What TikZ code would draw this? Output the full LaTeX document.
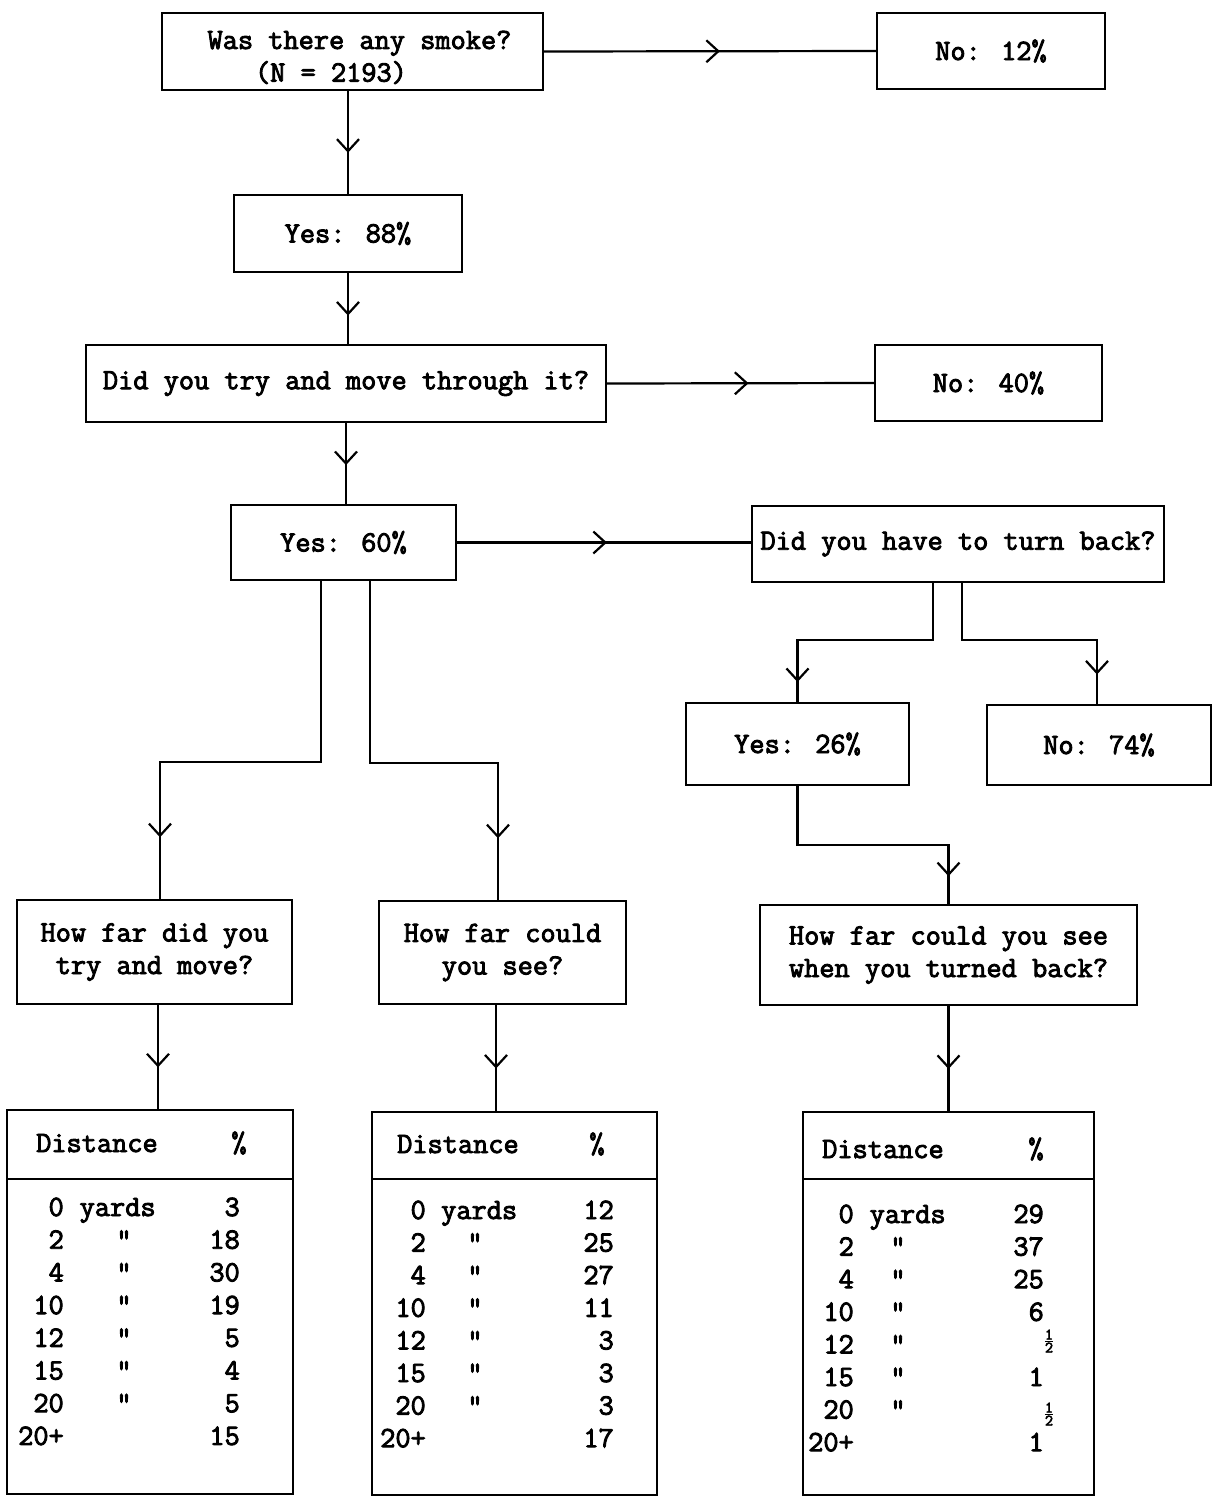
\documentclass[tikz,border=0pt]{standalone}
\usepackage{fontspec}
\newfontfamily\tw{Latin Modern Mono}[FakeBold=3]
\usetikzlibrary{arrows.meta,decorations.markings,calc}
\begin{document}
\begin{tikzpicture}[x=1pt,y=-1pt,
  box/.style={draw,line width=2.2pt,inner sep=0pt,align=center,font=\tw\fontsize{29.5}{32.6}\selectfont},
  tbl/.style={draw,line width=2.2pt,inner sep=0pt},
  conn/.style={line width=2.2pt,line cap=rect},
  arr/.style={line width=2.2pt,line cap=rect,postaction={decorate},decoration={markings,mark=at position #1 with {\arrow[line cap=butt]{Straight Barb[length=12pt,width=22pt]}}}},
  arr/.default=0.56,
  txt/.style={inner sep=0pt,font=\tw\fontsize{29.5}{32.6}\selectfont},
  half/.style={inner sep=0pt,align=center,font=\tw\fontsize{16}{13}\selectfont},
]
\useasboundingbox (0,0) rectangle (1216,1497);
\fill[white] (0,0) rectangle (1216,1497);

% boxes
\node[box,minimum width=381pt,minimum height=77pt] (A) at (352.5,51.5) {\rule{0pt}{30pt}\hspace*{14pt}Was there any smoke?\\(N = 2193)\hspace*{43pt}\null};
\node[box,minimum width=228pt,minimum height=76pt] (N12) at (991,51) {No: 12\%};
\node[box,minimum width=228pt,minimum height=77pt] (Y88) at (348,233.5) {Yes: 88\%};
\node[box,minimum width=520pt,minimum height=77pt] (DT) at (346,383.5) {Did you try and move through it?};
\node[box,minimum width=227pt,minimum height=76pt] (N40) at (988.5,383) {No: 40\%};
\node[box,minimum width=225pt,minimum height=75pt] (Y60) at (343.5,542.5) {Yes: 60\%};
\node[box,minimum width=412pt,minimum height=76pt] (TB) at (958,544) {Did you have to turn back?};
\node[box,minimum width=223pt,minimum height=82pt] (Y26) at (797.5,744) {Yes: 26\%};
\node[box,minimum width=224pt,minimum height=80pt] (N74) at (1099,745) {No: 74\%};
\node[box,minimum width=275pt,minimum height=104pt] (HF1) at (154.5,952) {How far did you\\try and move?};
\node[box,minimum width=247pt,minimum height=103pt] (HF2) at (502.5,952.5) {How far could\\you see?};
\node[box,minimum width=377pt,minimum height=100pt] (HF3) at (948.5,955) {How far could you see\\when you turned back?};

% tables
\node[tbl,minimum width=286pt,minimum height=69pt] (T1h) at (150,1144.5) {};
\node[tbl,minimum width=286pt,minimum height=315pt] (T1b) at (150,1336.5) {};
\node[tbl,minimum width=285pt,minimum height=67pt] (T2h) at (514.5,1145.5) {};
\node[tbl,minimum width=285pt,minimum height=316pt] (T2b) at (514.5,1337) {};
\node[tbl,minimum width=291pt,minimum height=67pt] (T3h) at (948.5,1145.5) {};
\node[tbl,minimum width=291pt,minimum height=316pt] (T3b) at (948.5,1337) {};

% table 1
\node[txt,anchor=base west] (t1h) at (36,1152) {Distance};
\node[txt,anchor=base] (t1p) at (239,1152) {\%};
\foreach \n/\v [count=\i from 0] in {0/3,2/18,4/30,10/19,12/5,15/4,20/5,20+/15} {
  \node[txt,anchor=base east] (t1n\i) at (64,{1216+32.7*\i}) {\n};
  \node[txt,anchor=base east] (t1v\i) at (240,{1216+32.7*\i}) {\v};
}
\node[txt,anchor=base west] (t1y) at (79.5,1216) {yards};
\foreach \i in {1,...,6} \node[txt,anchor=base] (t1d\i) at (124,{1216+32.7*\i}) {"};

% table 2
\node[txt,anchor=base west] (t2h) at (397,1153) {Distance};
\node[txt,anchor=base] (t2p) at (597,1153) {\%};
\foreach \n/\v [count=\i from 0] in {0/12,2/25,4/27,10/11,12/3,15/3,20/3,20+/17} {
  \node[txt,anchor=base east] (t2n\i) at (426,{1219+32.6*\i}) {\n};
  \node[txt,anchor=base east] (t2v\i) at (614,{1219+32.6*\i}) {\v};
}
\node[txt,anchor=base west] (t2y) at (441,1219) {yards};
\foreach \i in {1,...,6} \node[txt,anchor=base] (t2d\i) at (475,{1219+32.6*\i}) {"};

% table 3
\node[txt,anchor=base west] (t3h) at (822,1158) {Distance};
\node[txt,anchor=base] (t3p) at (1036,1158) {\%};
\foreach \n [count=\i from 0] in {0,2,4,10,12,15,20,20+} {
  \node[txt,anchor=base east] (t3n\i) at (854,{1223+32.6*\i}) {\n};
}
\foreach \v/\i in {29/0,37/1,25/2,6/3,1/5,1/7} {
  \node[txt,anchor=base east] (t3v\i) at (1044,{1223+32.6*\i}) {\v};
}
\node[half] (t3v4) at (1049,1341) {\underline{1}\\2};
\node[half] (t3v6) at (1049,1414) {\underline{1}\\2};
\node[txt,anchor=base west] (t3y) at (869.5,1223) {yards};
\foreach \i in {1,...,6} \node[txt,anchor=base] (t3d\i) at (898,{1223+32.6*\i}) {"};

% connectors
\draw[arr=0.53] (A.east) -- (N12.west);
\draw[arr=0.6] (Y88.north |- A.south) -- (Y88.north);
\draw[arr=0.6] (Y88.south) -- (Y88.south |- DT.north);
\draw[arr=0.53] (DT.east) -- (N40.west);
\draw[arr=0.52] (DT.south) -- (DT.south |- Y60.north);
\draw[arr=0.51] (Y60.east) -- (Y60.east -| TB.west);

\coordinate (k1) at (797.5,640);
\coordinate (k2) at (1097,640);
\draw[conn] ([xshift=-25pt]TB.south) |- (k1);
\draw[arr=0.68] (k1) -- (k1 |- Y26.north);
\draw[conn] ([xshift=4pt]TB.south) |- (k2);
\draw[arr=0.54] (k2) -- (k2 |- N74.north);

\coordinate (k3) at (948.5,845);
\draw[conn] (Y26.south) |- (k3);
\draw[arr=0.53] (k3) -- (HF3.north);

\coordinate (k4) at (160,762);
\coordinate (k5) at (498,763);
\draw[conn] ([xshift=-22.5pt]Y60.south) |- (k4);
\draw[arr=0.55] (k4) -- (k4 |- HF1.north);
\draw[conn] ([xshift=26.5pt]Y60.south) |- (k5);
\draw[arr=0.55] (k5) -- (k5 |- HF2.north);

\coordinate (h1) at ([xshift=3.5pt]HF1.south);
\coordinate (h2) at ([xshift=-6.5pt]HF2.south);
\draw[arr=0.6] (h1) -- (h1 |- T1h.north);
\draw[arr=0.6] (h2) -- (h2 |- T2h.north);
\draw[arr=0.6] (HF3.south) -- (HF3.south |- T3h.north);
\end{tikzpicture}
\end{document}
